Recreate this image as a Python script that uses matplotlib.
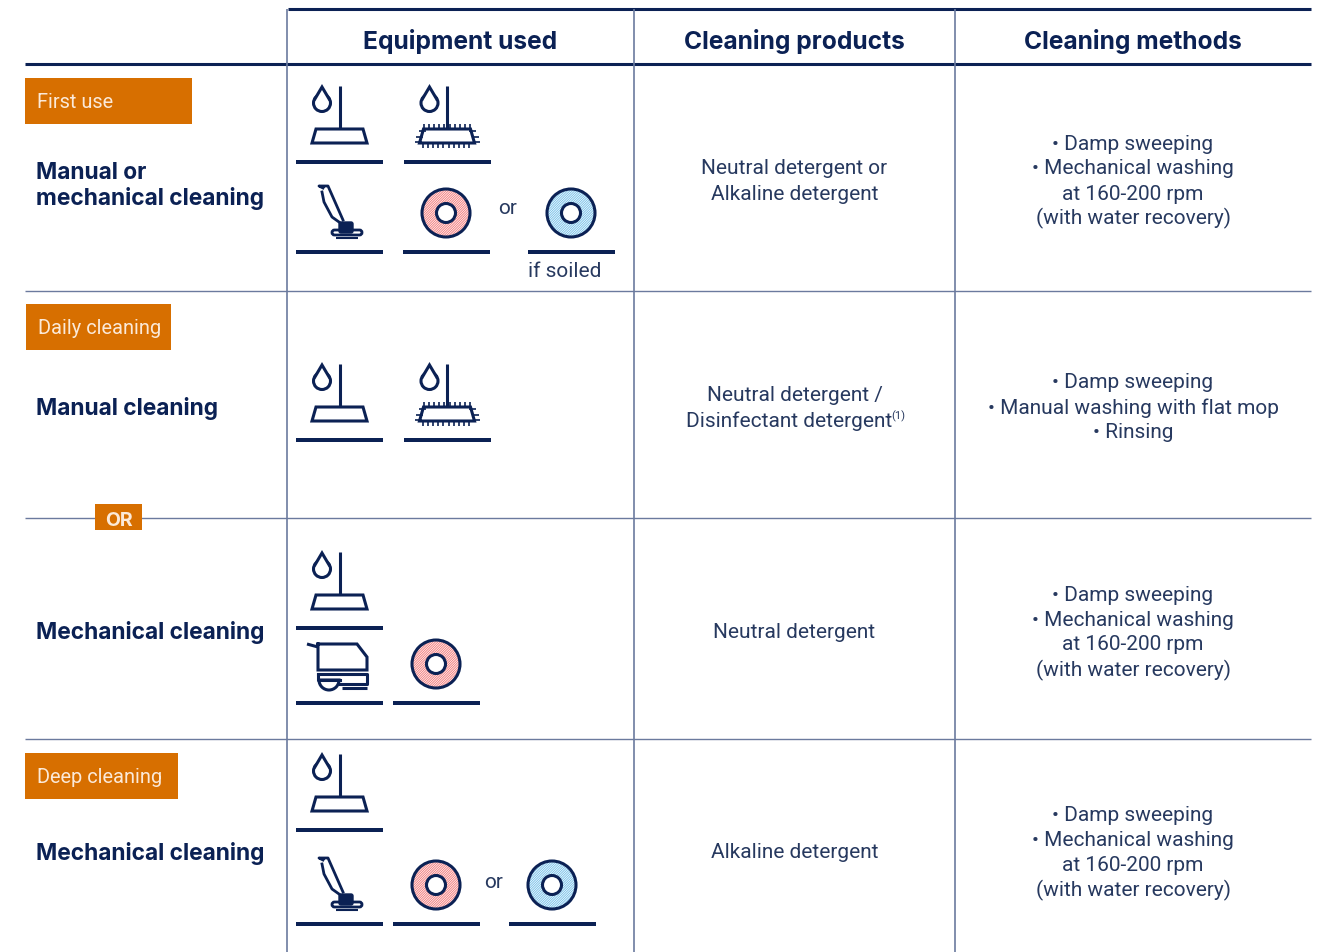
import matplotlib
matplotlib.use("Agg")
import matplotlib.pyplot as plt
from matplotlib.patches import Rectangle, Circle, Wedge, Polygon, FancyBboxPatch

navy = "#0b2154"
grid = "#6b7a9e"
orange = "#d76f00"
body = "#27395f"

plt.rcParams["hatch.linewidth"] = 0.5

headers = ["Equipment used", "Cleaning products", "Cleaning methods"]
header_x = [460, 794.5, 1133]
row_lines = [291, 518, 739]
col_lines = [287, 634, 955]

tags = ["First use", "Daily cleaning", "Deep cleaning"]
tag_boxes = [(25, 78, 192, 124), (26, 304, 171, 350), (25, 753, 178, 799)]

row_titles = ["Manual or\nmechanical cleaning", "Manual cleaning", "Mechanical cleaning", "Mechanical cleaning"]
row_title_y = [184, 407, 631, 852]

products = [["Neutral detergent or", "Alkaline detergent"],
            ["Neutral detergent /"],
            ["Neutral detergent"],
            ["Alkaline detergent"]]
product_y = [[167, 192], [394], [631], [851]]

methods = [["• Damp sweeping", "• Mechanical washing", "at 160-200 rpm", "(with water recovery)"],
           ["• Damp sweeping", "• Manual washing with flat mop", "• Rinsing"],
           ["• Damp sweeping", "• Mechanical washing", "at 160-200 rpm", "(with water recovery)"],
           ["• Damp sweeping", "• Mechanical washing", "at 160-200 rpm", "(with water recovery)"]]
method_y = [[143, 167, 192, 216], [381, 406, 431], [594, 619, 643, 668], [814, 839, 864, 888]]

fig = plt.figure(figsize=(13.19, 9.53), dpi=100)
ax = fig.add_axes([0, 0, 1, 1])
ax.set_xlim(0, 1319)
ax.set_ylim(952, -1)
ax.axis("off")


def line(xs, ys, lw=2.2, color=navy):
    ax.plot(xs, ys, color=color, lw=lw, solid_capstyle="butt", solid_joinstyle="miter")


def label(x, y, s, **kw):
    # text sits about 1px high with va=center
    ax.text(x, y + 1, s, va="center", **kw)


def bar(x, y):
    ax.add_patch(Rectangle((x, y - 2), 87, 4, fc=navy, ec="none"))


def mop(x, y, fringe=False):
    bar(x, y)
    line([x + 43.5, x + 43.5], [y - 76, y - 33])
    ax.add_patch(Polygon([(x + 20, y - 33), (x + 67, y - 33), (x + 71, y - 19), (x + 16, y - 19)],
                         closed=True, fc="none", ec=navy, lw=2.2))
    ax.add_patch(Circle((x + 26, y - 59), 8.5, fc="white", ec=navy, lw=2.2))
    ax.add_patch(Polygon([(x + 18.5, y - 63), (x + 26, y - 75), (x + 33.5, y - 63), (x + 26, y - 58)],
                         closed=True, fc="white", ec="none", zorder=3))
    line([x + 18.3, x + 26, x + 33.7], [y - 62, y - 75, y - 62])
    ax.lines[-1].set_zorder(4)
    if fringe:
        for i in range(10):
            fx = x + 20 + i * 5.2
            line([fx, fx], [y - 38, y - 33], lw=1.2)
            line([fx - 1, fx - 1], [y - 19, y - 14], lw=1.2)
        for dy, dx in [(-31, 3), (-25, 0), (-20, -1)]:
            line([x + 16 - 3 + dx - 1, x + 19 + dx], [y + dy, y + dy], lw=1.2)
            line([x + 68 - dx, x + 75 - dx], [y + dy, y + dy], lw=1.2)


def rotary(x, y):
    bar(x, y)
    ax.plot([x + 27, x + 23, x + 32, x + 47], [y - 64, y - 66, y - 66, y - 32], color=navy, lw=2)
    ax.plot([x + 26, x + 28, x + 36, x + 43], [y - 60, y - 50, y - 35, y - 30], color=navy, lw=2)
    ax.add_patch(FancyBboxPatch((x + 36, y - 22), 30, 5, boxstyle="round,pad=0,rounding_size=2.5", fc="white", ec=navy, lw=2))
    ax.add_patch(FancyBboxPatch((x + 43, y - 30), 14, 11, boxstyle="round,pad=0,rounding_size=2", fc=navy, ec=navy))
    line([x + 40, x + 62], [y - 14.5, y - 14.5], lw=1.5)


def scrubber(x, y):
    bar(x, y)
    line([x + 11, x + 22], [y - 59, y - 56])
    ax.plot([x + 22, x + 61, x + 71, x + 71, x + 22, x + 22], [y - 59, y - 59, y - 46, y - 33, y - 33, y - 59],
            color=navy, lw=2.2, solid_joinstyle="miter")
    ax.plot([x + 22, x + 71, x + 71, x + 44], [y - 29, y - 29, y - 19, y - 19], color=navy, lw=2.2)
    ax.plot([x + 22, x + 22, x + 44], [y - 29, y - 23, y - 23], color=navy, lw=2.2)
    ax.add_patch(Wedge((x + 33, y - 23), 10, 0, 180, fc="white", ec=navy, lw=2.2))
    line([x + 46, x + 71], [y - 15.5, y - 15.5])


def disc(x, y, bar_y, fill):
    bar(x, bar_y)
    cx = x + 43.5
    ax.add_patch(Wedge((cx, y), 24, 0, 360, width=14, fc=fill, ec="white", hatch="//////////////", lw=0))
    ax.add_patch(Circle((cx, y), 24, fc="none", ec=navy, lw=2.2))
    ax.add_patch(Circle((cx, y), 9.5, fc="white", ec=navy, lw=2.2))


# grid
line([288, 1311], [9, 9], lw=2.2)
line([25, 1311], [64, 64], lw=2.2)
for y in row_lines:
    line([25, 1311], [y, y], lw=1.0, color=grid)
for x in col_lines:
    line([x, x], [9, 953], lw=1.2, color=grid)

for name, x in zip(headers, header_x):
    label(x, 40, name, family="Inter", weight="bold", fontsize=17.7, color=navy, ha="center")

for name, (x0, y0, x1, y1) in zip(tags, tag_boxes):
    ax.add_patch(Rectangle((x0, y0), x1 - x0, y1 - y0, fc=orange, ec="none", zorder=3))
    label(x0 + 12, (y0 + y1) / 2, name, family="Roboto", fontsize=14.4, color="#fbe9d8", ha="left", zorder=4)

ax.add_patch(Rectangle((95, 504), 47, 26, fc=orange, ec="none", zorder=3))
label(118.5, 519, "OR", family="Inter", weight="bold", fontsize=14, color="#fbe9d8", ha="center", zorder=4)

for name, y in zip(row_titles, row_title_y):
    label(36, y, name, family="Inter", weight="bold", fontsize=16.4, color=navy, ha="left", linespacing=1.2)

for names, ys in zip(products, product_y):
    for name, y in zip(names, ys):
        label(794.5, y, name, family="Roboto", fontsize=15, color=body, ha="center")
label(686, 419, "Disinfectant detergent", family="Roboto", fontsize=15, color=body, ha="left")
label(891, 414, "(1)", family="Roboto", fontsize=8, color=body, ha="left")

for names, ys in zip(methods, method_y):
    for name, y in zip(names, ys):
        label(1133, y, name, family="Roboto", fontsize=15, color=body, ha="center")

label(507.5, 207, "or", family="Roboto", fontsize=15, color=body, ha="center")
label(494, 881, "or", family="Roboto", fontsize=15, color=body, ha="center")
label(564.5, 270, "if soiled", family="Roboto", fontsize=15, color=body, ha="center")

# icons
mop(296, 162)
mop(403.5, 162, fringe=True)
rotary(296, 252)
disc(402.5, 213, 252, "#f27f80")
disc(527.5, 213, 252, "#7cc3ea")
mop(296, 440)
mop(403.5, 440, fringe=True)
mop(296, 628)
scrubber(296, 703)
disc(392.5, 664, 703, "#f27f80")
mop(296, 830)
rotary(296, 924)
disc(392.5, 885, 924, "#f27f80")
disc(508.5, 885, 924, "#7cc3ea")

fig.savefig("out.png", dpi=100)
